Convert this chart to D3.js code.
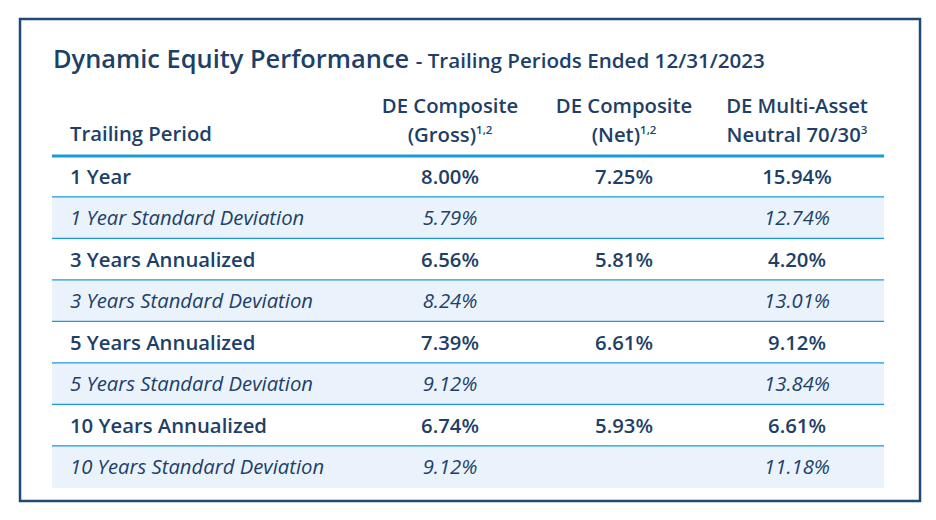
<html>
<head>
<script src="https://cdn.jsdelivr.net/npm/d3@7"></script>
<style>body{margin:0;background:#fff}</style>
</head>
<body>
<div id="content"></div>
<script>
const periods = ["1 Year", "1 Year Standard Deviation", "3 Years Annualized", "3 Years Standard Deviation",
  "5 Years Annualized", "5 Years Standard Deviation", "10 Years Annualized", "10 Years Standard Deviation"];
const gross = ["8.00%", "5.79%", "6.56%", "8.24%", "7.39%", "9.12%", "6.74%", "9.12%"];
const net = ["7.25%", "", "5.81%", "", "6.61%", "", "5.93%", ""];
const neutral = ["15.94%", "12.74%", "4.20%", "13.01%", "9.12%", "13.84%", "6.61%", "11.18%"];
const headers = [["DE Composite", "(Gross)", "1,2"], ["DE Composite", "(Net)", "1,2"], ["DE Multi-Asset", "Neutral 70/30", "3"]];

const W = 936, H = 520, navy = "#1d3f68", blue = "#1a9ad9", fs = 20.3;
const svg = d3.select("#content").append("svg").attr("width", W).attr("height", H)
  .attr("font-family", "Open Sans, sans-serif").attr("fill", navy);

svg.append("rect").attr("x", 20).attr("y", 19).attr("width", 900).attr("height", 482)
  .attr("fill", "none").attr("stroke", "#1f4a78").attr("stroke-width", 2.5);

const title = svg.append("text").attr("x", 53).attr("y", 68);
title.append("tspan").attr("font-size", 25.4).attr("font-weight", 600).text("Dynamic Equity Performance ");
title.append("tspan").attr("font-size", 20.6).attr("font-weight", 600).text("- Trailing Periods Ended 12/31/2023");

const y = d3.scaleBand().domain(d3.range(periods.length)).range([156, 488]);
const colX = [450, 624, 797];

svg.append("text").attr("x", 70).attr("y", 141).attr("font-size", fs).attr("font-weight", 600).text("Trailing Period");
headers.forEach((h, i) => {
  svg.append("text").attr("x", colX[i]).attr("y", 113).attr("text-anchor", "middle")
    .attr("font-size", fs).attr("font-weight", 600).text(h[0]);
  const t = svg.append("text").attr("x", colX[i]).attr("y", 142).attr("text-anchor", "middle")
    .attr("font-size", fs).attr("font-weight", 600);
  t.append("tspan").text(h[1]);
  t.append("tspan").attr("font-size", 11.5).attr("dy", -8).text(h[2]);
});

const rows = svg.append("g").selectAll("g").data(periods).join("g")
  .attr("transform", (d, i) => `translate(0,${y(i)})`);
rows.append("rect").attr("x", 52).attr("width", 832).attr("height", y.bandwidth())
  .attr("fill", (d, i) => i % 2 ? "#eaf3fb" : "#fff");
rows.filter((d, i) => i < periods.length - 1).append("line")
  .attr("x1", 52).attr("x2", 884).attr("y1", y.bandwidth()).attr("y2", y.bandwidth())
  .attr("stroke", blue).attr("stroke-width", 2.5);
const cells = (i) => [periods[i], gross[i], net[i], neutral[i]];
rows.each(function(d, i) {
  const g = d3.select(this);
  const italic = i % 2 === 1;
  cells(i).forEach((v, j) => {
    g.append("text").attr("x", j === 0 ? 70 : colX[j - 1]).attr("y", y.bandwidth() / 2 + 7)
      .attr("text-anchor", j === 0 ? "start" : "middle").attr("font-size", fs)
      .attr("font-weight", italic ? 400 : 600).attr("font-style", italic ? "italic" : null).text(v);
  });
});
svg.append("line").attr("x1", 52).attr("x2", 884).attr("y1", 156).attr("y2", 156)
  .attr("stroke", blue).attr("stroke-width", 3);
</script>
</body>
</html>
